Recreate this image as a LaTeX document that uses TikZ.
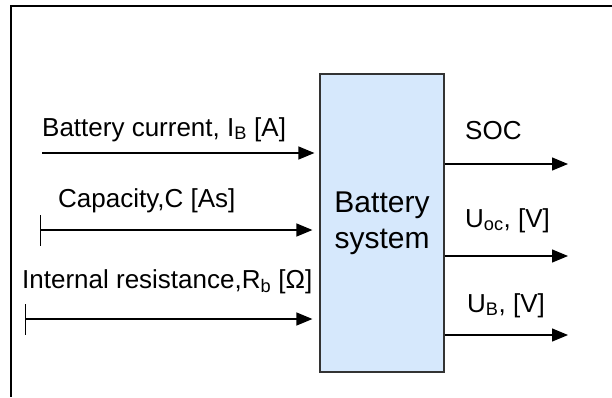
\documentclass[tikz,border=0pt]{standalone}
\usepackage{fontspec}
\setmainfont{Liberation Sans}
\usepackage{tikz}
\usetikzlibrary{arrows.meta}
\definecolor{boxblue}{RGB}{214,232,252}

\begin{document}
\begin{tikzpicture}[x=1pt, y=-1pt,
    sig/.style={line width=1.3pt, -{Triangle[length=16pt, width=13pt]}},
    barsig/.style={line width=1.3pt, {Bar[width=31pt]}-{Triangle[length=16pt, width=13pt]}},
    lbl/.style={anchor=base west, inner sep=0pt, font=\fontsize{26}{31}\selectfont},
    sysbox/.style={draw=black!80, line width=1.2pt, fill=boxblue, align=center,
        minimum width=124pt, minimum height=298pt, inner sep=0pt,
        font=\fontsize{30}{36}\selectfont}]
    \useasboundingbox (0,0) rectangle (612,397);

    % frame
    \draw[line width=2pt] (612,5.7) -- (11,5.7) -- (11,397);

    % block
    \node[sysbox] (sys) at (382,223) {Battery\\system};

    % inputs
    \coordinate (in1) at (42,153);
    \coordinate (in2) at (40,230);
    \coordinate (in3) at (25,319);
    \draw[sig, shorten >=5pt] (in1) -- (sys.west |- in1);
    \draw[barsig, shorten >=7pt] (in2) -- (sys.west |- in2);
    \draw[barsig, shorten >=7pt] (in3) -- (sys.west |- in3);
    \node[lbl] (curlbl) at (42,136) {Battery current, I\textsubscript{B} [A]};
    \node[lbl] (caplbl) at (58,207) {Capacity,C [As]};
    \node[lbl] (reslbl) at (22,288) {Internal resistance,R\textsubscript{b} [Ω]};

    % outputs
    \coordinate (out1) at (568,164);
    \coordinate (out2) at (568,256);
    \coordinate (out3) at (568,335);
    \draw[sig] (sys.east |- out1) -- (out1);
    \draw[sig] (sys.east |- out2) -- (out2);
    \draw[sig] (sys.east |- out3) -- (out3);
    \node[lbl] (soclbl) at (465,139) {SOC};
    \node[lbl] (uoclbl) at (465,227) {U\textsubscript{oc}, [V]};
    \node[lbl] (ublbl) at (467,312) {U\textsubscript{B}, [V]};
\end{tikzpicture}
\end{document}
